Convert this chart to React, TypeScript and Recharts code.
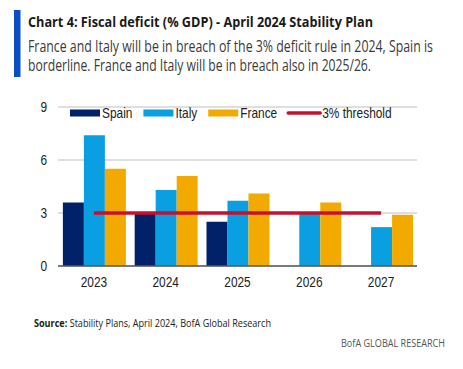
import { ComposedChart, Bar, Line, XAxis, YAxis, CartesianGrid, Legend } from 'recharts';

const years = ['2023', '2024', '2025', '2026', '2027'];
const spain = [3.6, 3.0, 2.5, null, null];
const italy = [7.4, 4.3, 3.7, 3.0, 2.2];
const france = [5.5, 5.1, 4.1, 3.6, 2.9];
const threshold = [3, 3, 3, 3, 3];
const yTicks = [0, 3, 6, 9];
const seriesOrder = ['Spain', 'Italy', 'France', '3% threshold'];

const data = years.map((year, i) => ({
  year,
  spain: spain[i],
  italy: italy[i],
  france: france[i],
  threshold: threshold[i],
}));

const SANS = '"Liberation Sans", Arial, sans-serif';
const HEAD = '"Open Sans", "Noto Sans", sans-serif';
const FS = 14.5;
const NARROW = 0.82; // the original uses an Arial Narrow look

// width of a string in Liberation Sans, squeezed to the narrow look
let ctx: CanvasRenderingContext2D | null = null;
function narrowWidth(s: string, size = FS) {
  if (!ctx) ctx = document.createElement('canvas').getContext('2d');
  if (!ctx) return s.length * size * 0.45;
  ctx.font = `${size}px ${SANS}`;
  return ctx.measureText(s).width * NARROW;
}

function NarrowText({ x, y, anchor, dy, value }: any) {
  return (
    <text
      x={x}
      y={y}
      dy={dy}
      textAnchor={anchor}
      fontFamily={SANS}
      fontSize={FS}
      fill="#222"
      textLength={narrowWidth(value)}
      lengthAdjust="spacingAndGlyphs"
    >
      {value}
    </text>
  );
}

const XTick = (props: any) => <NarrowText x={props.x} y={props.y} anchor="middle" dy="0.71em" value={props.payload.value} />;
const YTick = (props: any) => <NarrowText x={props.x} y={props.y} anchor="end" dy="0.355em" value={String(props.payload.value)} />;

function LegendContent({ payload }: any) {
  const items = [...(payload || [])].sort((a: any, b: any) => seriesOrder.indexOf(a.value) - seriesOrder.indexOf(b.value));
  let cx = 70;
  const parts = items.map((item: any) => {
    const isLine = item.type === 'line';
    const sw = isLine ? 32 : 30;
    const tw = narrowWidth(item.value);
    const x0 = cx;
    cx += sw + 2 + tw + 11;
    return (
      <g key={item.value}>
        {isLine ? (
          <line x1={x0} x2={x0 + sw} y1={9} y2={9} stroke={item.color} strokeWidth={3.5} strokeLinecap="round" />
        ) : (
          <rect x={x0} y={5.5} width={sw} height={7} fill={item.color} />
        )}
        <NarrowText x={x0 + sw + 2} y={9} anchor="start" dy="0.355em" value={item.value} />
      </g>
    );
  });
  return (
    <svg width={463} height={18} style={{ display: 'block' }}>
      {parts}
    </svg>
  );
}

export default function App() {
  return (
    <div style={{ position: 'absolute', left: 0, top: 0, width: 463, height: 369, background: '#fff', overflow: 'hidden' }}>
      <svg width={463} height={90} style={{ position: 'absolute', left: 0, top: 0 }}>
        <rect x={14} y={10} width={6.5} height={67} fill="#0B4FC4" />
        <text x={28} y={27} fontFamily={HEAD} fontWeight={700} fontSize={15} fill="#1a1a1a" textLength={345} lengthAdjust="spacingAndGlyphs">
          Chart 4: Fiscal deficit (% GDP) - April 2024 Stability Plan
        </text>
        <text x={28} y={51.7} fontFamily={HEAD} fontSize={15.5} fill="#3a3a3a" textLength={405} lengthAdjust="spacingAndGlyphs">
          France and Italy will be in breach of the 3% deficit rule in 2024, Spain is
        </text>
        <text x={28} y={71} fontFamily={HEAD} fontSize={15.5} fill="#3a3a3a" textLength={343} lengthAdjust="spacingAndGlyphs">
          borderline. France and Italy will be in breach also in 2025/26.
        </text>
      </svg>

      <div style={{ position: 'absolute', left: 0, top: 95 }}>
        <ComposedChart
          width={463}
          height={210}
          data={data}
          margin={{ top: 12, right: 46, left: 0, bottom: 9 }}
          barCategoryGap="6.8%"
          barGap={0}
        >
          <CartesianGrid vertical={false} stroke="#BFBFBF" />
          <XAxis
            dataKey="year"
            height={30}
            axisLine={{ stroke: '#595959', strokeWidth: 1.5 }}
            tickLine={false}
            tickSize={0}
            tickMargin={11}
            tick={<XTick />}
          />
          <YAxis
            width={58}
            domain={[0, 9]}
            ticks={yTicks}
            axisLine={false}
            tickLine={false}
            tickSize={0}
            tickMargin={11}
            tick={<YTick />}
          />
          <Legend
            layout="horizontal"
            verticalAlign="middle"
            align="center"
            wrapperStyle={{ top: 9, left: 0, width: 463 }}
            content={<LegendContent />}
          />
          <Bar dataKey="spain" name="Spain" fill="#012169" isAnimationActive={false} />
          <Bar dataKey="italy" name="Italy" fill="#0A9FE0" isAnimationActive={false} />
          <Bar dataKey="france" name="France" fill="#F2AA00" isAnimationActive={false} />
          <Line
            type="linear"
            dataKey="threshold"
            name="3% threshold"
            stroke="#C8102E"
            strokeWidth={3.5}
            dot={false}
            activeDot={false}
            legendType="line"
            isAnimationActive={false}
          />
        </ComposedChart>
      </div>

      <svg width={463} height={69} style={{ position: 'absolute', left: 0, top: 300 }}>
        <text x={34} y={26.7} fontFamily={HEAD} fontSize={10.5} fill="#222" textLength={237} lengthAdjust="spacingAndGlyphs">
          <tspan fontWeight={700}>Source:</tspan> Stability Plans, April 2024, BofA Global Research
        </text>
        <text x={445} y={46.7} textAnchor="end" fontFamily={HEAD} fontSize={10.5} fill="#555" textLength={104} lengthAdjust="spacingAndGlyphs">
          BofA GLOBAL RESEARCH
        </text>
      </svg>
    </div>
  );
}
